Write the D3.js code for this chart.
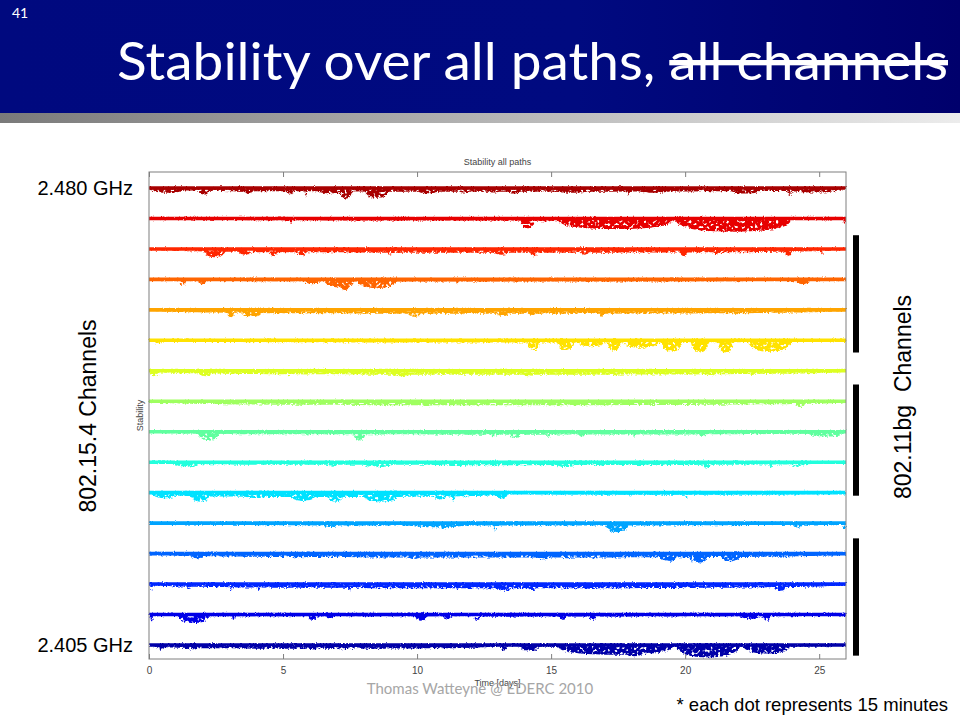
<!DOCTYPE html>
<html>
<head>
<meta charset="utf-8">
<script src="https://cdn.jsdelivr.net/npm/d3@7"></script>
<style>
  body { margin: 0; background: #fff; }
  svg { display: block; }
</style>
</head>
<body>
<svg id="slide" width="960" height="720"></svg>
<script>
// channels from top (2.480 GHz) to bottom (2.405 GHz)
const channels = [26, 25, 24, 23, 22, 21, 20, 19, 18, 17, 16, 15, 14, 13, 12, 11];
const xTicks = [0, 5, 10, 15, 20, 25];
const dayRange = [0, 26];

// each entry: [start day, end day, lowest stability reached]
const ch26Dips = [[0, 26, 0.90], [0, 1.4, 0.87], [1.83, 2.28, 0.81], [3.0, 4.1, 0.89], [3.5, 3.9, 0.83], [5.1, 5.4, 0.81],
  [5.8, 5.9, 0.75], [6.1, 7.6, 0.85], [7.1, 7.6, 0.67], [8.0, 9.0, 0.70], [9.9, 10.9, 0.85], [11.5, 12.0, 0.88],
  [12.6, 13.1, 0.88], [13.3, 13.9, 0.84], [14.9, 16.6, 0.87], [17.85, 17.95, 0.78], [18.1, 19.6, 0.87],
  [21.6, 22.9, 0.84], [23.7, 25.9, 0.88], [23.8, 24.0, 0.80]];
const ch25Dips = [[0, 26, 0.96], [5.25, 5.35, 0.88], [7.75, 7.85, 0.90], [13.85, 14.4, 0.70], [14.4, 15.2, 0.93],
  [15.2, 19.6, 0.67], [19.6, 24.0, 0.58], [25.9, 26, 0.85]];
const ch24Dips = [[0, 26, 0.90], [2.0, 2.9, 0.75], [3.3, 3.9, 0.83], [4.5, 4.8, 0.78], [5.5, 5.9, 0.80], [8.9, 9.1, 0.83],
  [12.8, 13.5, 0.83], [14.2, 14.5, 0.78], [16.1, 16.4, 0.83], [19.8, 20.1, 0.78], [21.0, 21.4, 0.85],
  [23.7, 24.0, 0.78], [25.05, 25.15, 0.85]];
const ch23Dips = [[0, 26, 0.96], [1.1, 1.4, 0.84], [1.8, 2.2, 0.87], [5.8, 6.4, 0.87], [6.5, 7.7, 0.76], [7.0, 7.6, 0.67],
  [7.7, 9.3, 0.73], [11.45, 11.55, 0.87], [24.1, 24.7, 0.87]];
const ch22Dips = [[0, 26, 0.90], [2.9, 3.2, 0.78], [3.4, 4.3, 0.80], [9.6, 10.2, 0.80], [11.6, 11.8, 0.86],
  [12.9, 13.5, 0.82], [14.1, 14.5, 0.86], [16.8, 17.0, 0.80], [21.85, 21.95, 0.88]];
const ch21Dips = [[0, 26, 0.96], [0.2, 0.5, 0.92], [6.6, 6.8, 0.92], [14.1, 14.6, 0.70], [15.2, 15.9, 0.70],
  [15.9, 17.1, 0.83], [17.1, 17.6, 0.67], [17.6, 19.1, 0.78], [19.1, 19.9, 0.64], [20.2, 20.9, 0.62],
  [21.2, 21.8, 0.62], [22.3, 24.0, 0.64]];
const ch20Dips = [[0, 26, 0.90], [0, 0.4, 0.85], [1.8, 2.4, 0.85], [5.1, 5.4, 0.88], [9.0, 9.8, 0.85], [13.9, 14.4, 0.85],
  [17.3, 17.5, 0.88], [20.7, 21.2, 0.88], [22.4, 22.6, 0.88]];
const ch19Dips = [[0, 26, 0.90], [10.1, 10.6, 0.86], [24.1, 24.5, 0.83]];
const ch18Dips = [[0, 26, 0.93], [1.8, 2.65, 0.75], [2.2, 2.4, 0.70], [5.85, 5.95, 0.90], [7.6, 8.1, 0.75],
  [12.6, 13.1, 0.88], [13.4, 13.9, 0.82], [14.8, 15.0, 0.86], [16.0, 16.3, 0.86], [18.05, 18.15, 0.86],
  [20.5, 20.8, 0.86], [24.5, 26, 0.86]];
const ch17Dips = [[0, 26, 0.93], [0.9, 1.9, 0.88], [6.6, 7.1, 0.88], [7.9, 9.2, 0.86], [10.8, 12.1, 0.90],
  [15.1, 16.0, 0.86], [20.6, 20.98, 0.84], [23.15, 23.25, 0.84], [23.9, 24.5, 0.88]];
const ch16Dips = [[0, 13.4, 0.88], [13.4, 26, 0.96], [0.1, 1.1, 0.84], [1.5, 2.3, 0.72], [3.4, 4.6, 0.85],
  [5.2, 6.3, 0.75], [6.6, 7.3, 0.72], [7.9, 9.4, 0.72], [10.6, 11.1, 0.80], [11.3, 11.4, 0.72],
  [12.9, 13.4, 0.83], [17.9, 18.0, 0.90], [20.0, 20.1, 0.83]];
const ch15Dips = [[0, 26, 0.95], [6.4, 7.1, 0.90], [9.4, 12.1, 0.89], [10.8, 11.1, 0.83], [12.85, 12.95, 0.75],
  [17.0, 17.9, 0.72], [24.0, 24.4, 0.88], [25.9, 26, 0.80]];
const ch14Dips = [[0, 26, 0.90], [1.5, 2.1, 0.87], [5.3, 5.6, 0.87], [9.6, 10.2, 0.85], [14.4, 15.0, 0.83],
  [15.4, 15.8, 0.87], [16.5, 16.8, 0.87], [19.0, 19.75, 0.75], [20.1, 20.9, 0.72], [21.3, 22.1, 0.77],
  [23.7, 23.9, 0.88]];
const ch13Dips = [[0, 26, 0.89], [0.05, 0.15, 0.82], [1.4, 1.6, 0.86], [3.0, 3.1, 0.82], [4.05, 4.15, 0.82],
  [7.45, 7.55, 0.78], [11.4, 11.6, 0.83], [12.9, 13.6, 0.80], [14.1, 14.5, 0.83], [16.2, 16.9, 0.86],
  [23.3, 23.8, 0.80]];
const ch12Dips = [[0, 26, 0.96], [0.05, 0.15, 0.80], [1.05, 2.3, 0.74], [3.1, 3.2, 0.85], [5.9, 6.3, 0.85],
  [6.6, 6.9, 0.88], [9.9, 10.4, 0.82], [11.0, 11.3, 0.85], [12.1, 12.4, 0.85], [15.3, 15.6, 0.85],
  [16.4, 16.7, 0.85], [22.0, 22.9, 0.89], [22.9, 23.2, 0.82]];
const ch11Dips = [[0, 13, 0.90], [13, 26, 0.96], [0.3, 0.6, 0.87], [1.3, 1.8, 0.88], [5.9, 6.4, 0.88], [6.9, 7.5, 0.88],
  [13.1, 13.35, 0.84], [13.8, 14.6, 0.84], [15.2, 19.6, 0.70], [17.6, 18.6, 0.65], [19.6, 22.1, 0.61],
  [22.1, 24.0, 0.74]];

const allDips = [ch26Dips, ch25Dips, ch24Dips, ch23Dips, ch22Dips, ch21Dips, ch20Dips, ch19Dips,
  ch18Dips, ch17Dips, ch16Dips, ch15Dips, ch14Dips, ch13Dips, ch12Dips, ch11Dips];

const freqLabels = [{ ch: 26, text: "2.480 GHz" }, { ch: 11, text: "2.405 GHz" }];
// 802.11 channel overlap bars, in 802.15.4 channel units
const wifiBars = [[20.6, 24.45], [15.9, 19.55], [10.65, 14.5]];

const svg = d3.select("#slide");
const defs = svg.append("defs");

// slide header
const hdr = defs.append("linearGradient").attr("id", "hdr");
hdr.append("stop").attr("offset", "0%").attr("stop-color", "#00097f");
hdr.append("stop").attr("offset", "60%").attr("stop-color", "#000a80");
hdr.append("stop").attr("offset", "100%").attr("stop-color", "#00006c");
const strip = defs.append("linearGradient").attr("id", "strip");
strip.append("stop").attr("offset", "0%").attr("stop-color", "#7a7a7a");
strip.append("stop").attr("offset", "100%").attr("stop-color", "#ececec");

// grainy look for the dot clouds: rough edges + holes
const speck = defs.append("filter").attr("id", "speck")
  .attr("filterUnits", "userSpaceOnUse")
  .attr("x", 140).attr("y", 170).attr("width", 715).attr("height", 500);
speck.append("feTurbulence").attr("type", "fractalNoise").attr("baseFrequency", 0.6)
  .attr("numOctaves", 2).attr("seed", 3).attr("result", "noise");
speck.append("feDisplacementMap").attr("in", "SourceGraphic").attr("in2", "noise")
  .attr("scale", 4).attr("xChannelSelector", "R").attr("yChannelSelector", "G").attr("result", "disp");
speck.append("feTurbulence").attr("type", "fractalNoise").attr("baseFrequency", 0.38)
  .attr("numOctaves", 1).attr("seed", 11).attr("result", "n2");
speck.append("feColorMatrix").attr("in", "n2").attr("type", "matrix")
  .attr("values", "0 0 0 0 0  0 0 0 0 0  0 0 0 0 0  8 0 0 0 -2.5").attr("result", "mask");
speck.append("feComposite").attr("in", "disp").attr("in2", "mask").attr("operator", "in");

const rough = defs.append("filter").attr("id", "rough")
  .attr("filterUnits", "userSpaceOnUse")
  .attr("x", 140).attr("y", 170).attr("width", 715).attr("height", 500);
rough.append("feTurbulence").attr("type", "fractalNoise").attr("baseFrequency", 0.9)
  .attr("numOctaves", 1).attr("seed", 5).attr("result", "noise");
rough.append("feDisplacementMap").attr("in", "SourceGraphic").attr("in2", "noise")
  .attr("scale", 2.5).attr("xChannelSelector", "R").attr("yChannelSelector", "G");

svg.append("rect").attr("width", 960).attr("height", 113).attr("fill", "url(#hdr)");
svg.append("rect").attr("y", 113).attr("width", 960).attr("height", 10).attr("fill", "url(#strip)");

svg.append("text").attr("x", 12).attr("y", 18)
  .attr("fill", "#fff").attr("font-family", "Lato, sans-serif").attr("font-size", 14)
  .text("41");

const title = svg.append("text").attr("x", 117).attr("y", 80)
  .attr("fill", "#fff").attr("font-family", "Lato, 'Open Sans', sans-serif").attr("font-size", 53)
  .attr("textLength", 831).attr("lengthAdjust", "spacingAndGlyphs");
title.append("tspan").text("Stability over all paths, ");
title.append("tspan").attr("text-decoration", "line-through").text("all channels");

// plot scales
const x = d3.scaleLinear().domain(dayRange).range([149, 846]);
const y = d3.scaleLinear().domain([10.54, 26.525]).range([659, 172]);

function jet(t) {
  const c = v => Math.round(255 * Math.max(0, Math.min(1, v)));
  return d3.rgb(c(1.5 - Math.abs(4 * t - 3)), c(1.5 - Math.abs(4 * t - 2)), c(1.5 - Math.abs(4 * t - 1))).toString();
}
const color = d3.scaleLinear().domain([11, 26]).range([0.04, 0.96]);

const dipArea = d3.area()
  .x(d => x(d[0]))
  .y0(d => d[2])
  .y1(d => d[1])
  .curve(d3.curveBasis);

const plot = svg.append("g");

channels.forEach((ch, i) => {
  const col = jet(color(ch));
  const base = y(ch);
  const dots = plot.append("g").attr("filter", "url(#speck)");
  allDips[i].forEach(([s, e, low]) => {
    const w = e - s;
    const lowY = y(ch - 1 + low) + 1;
    const pts = [[s, base - 1, base], [s + w * 0.15, base - 1, lowY], [e - w * 0.15, base - 1, lowY], [e, base - 1, base]];
    if (w > 3) { pts[1][0] = s + 0.3; pts[2][0] = e - 0.3; }
    dots.append("path")
      .attr("d", dipArea(pts))
      .attr("fill", col);
  });
  plot.append("line")
    .attr("filter", "url(#rough)")
    .attr("x1", x(dayRange[0])).attr("x2", x(dayRange[1]))
    .attr("y1", base).attr("y2", base)
    .attr("stroke", col).attr("stroke-width", 3.6);
});

// axes box
svg.append("rect")
  .attr("x", x(0)).attr("y", y.range()[1])
  .attr("width", x(26) - x(0)).attr("height", y.range()[0] - y.range()[1])
  .attr("fill", "none").attr("stroke", "#7f7f7f").attr("stroke-width", 1);

const xAxis = svg.append("g")
  .attr("transform", `translate(0,${y.range()[0]})`)
  .call(d3.axisBottom(x).tickValues(xTicks).tickSize(-5).tickPadding(8).tickSizeOuter(0))
  .call(g => g.select(".domain").remove());
xAxis.selectAll("line").attr("stroke", "#7f7f7f");
xAxis.selectAll("text").attr("fill", "#444").attr("font-size", 10)
  .attr("font-family", "'Liberation Sans', Arial, sans-serif");

const topAxis = svg.append("g")
  .attr("transform", `translate(0,${y.range()[1]})`)
  .call(d3.axisTop(x).tickValues(xTicks).tickSize(-5).tickFormat("").tickSizeOuter(0))
  .call(g => g.select(".domain").remove());
topAxis.selectAll("line").attr("stroke", "#7f7f7f");

svg.append("text").attr("x", (x(0) + x(26)) / 2).attr("y", 165)
  .attr("text-anchor", "middle").attr("font-size", 9).attr("fill", "#444")
  .attr("font-family", "'Liberation Sans', Arial, sans-serif")
  .text("Stability all paths");

svg.append("text").attr("x", (x(0) + x(26)) / 2).attr("y", 686)
  .attr("text-anchor", "middle").attr("font-size", 9).attr("fill", "#444")
  .attr("font-family", "'Liberation Sans', Arial, sans-serif")
  .text("Time [days]");

svg.append("text")
  .attr("transform", `translate(143,${(y.range()[0] + y.range()[1]) / 2}) rotate(-90)`)
  .attr("text-anchor", "middle").attr("font-size", 9).attr("fill", "#444")
  .attr("font-family", "'Liberation Sans', Arial, sans-serif")
  .text("Stability");

// slide annotations
const sans = "'Liberation Sans', Arial, sans-serif";
svg.selectAll(".freq").data(freqLabels).join("text")
  .attr("class", "freq")
  .attr("x", 133).attr("y", d => y(d.ch) + 7)
  .attr("text-anchor", "end").attr("font-size", 20).attr("font-family", sans)
  .text(d => d.text);

svg.append("text")
  .attr("transform", "translate(96,416) rotate(-90)")
  .attr("text-anchor", "middle").attr("font-size", 23).attr("font-family", sans)
  .text("802.15.4 Channels");

svg.append("text")
  .attr("transform", "translate(911,397) rotate(-90)")
  .attr("text-anchor", "middle").attr("font-size", 23).attr("font-family", sans)
  .attr("xml:space", "preserve")
  .text("802.11bg  Channels");

svg.selectAll(".wifi").data(wifiBars).join("rect")
  .attr("class", "wifi")
  .attr("x", 853).attr("width", 6)
  .attr("y", d => y(d[1])).attr("height", d => y(d[0]) - y(d[1]))
  .attr("fill", "#000");

svg.append("text").attr("x", 480).attr("y", 694)
  .attr("text-anchor", "middle").attr("font-size", 15).attr("fill", "#a6a6a6")
  .attr("font-family", "Lato, sans-serif")
  .text("Thomas Watteyne @ EDERC 2010");

svg.append("text").attr("x", 948).attr("y", 711)
  .attr("text-anchor", "end").attr("font-size", 18.5).attr("font-family", sans)
  .text("* each dot represents 15 minutes");
</script>
</body>
</html>
